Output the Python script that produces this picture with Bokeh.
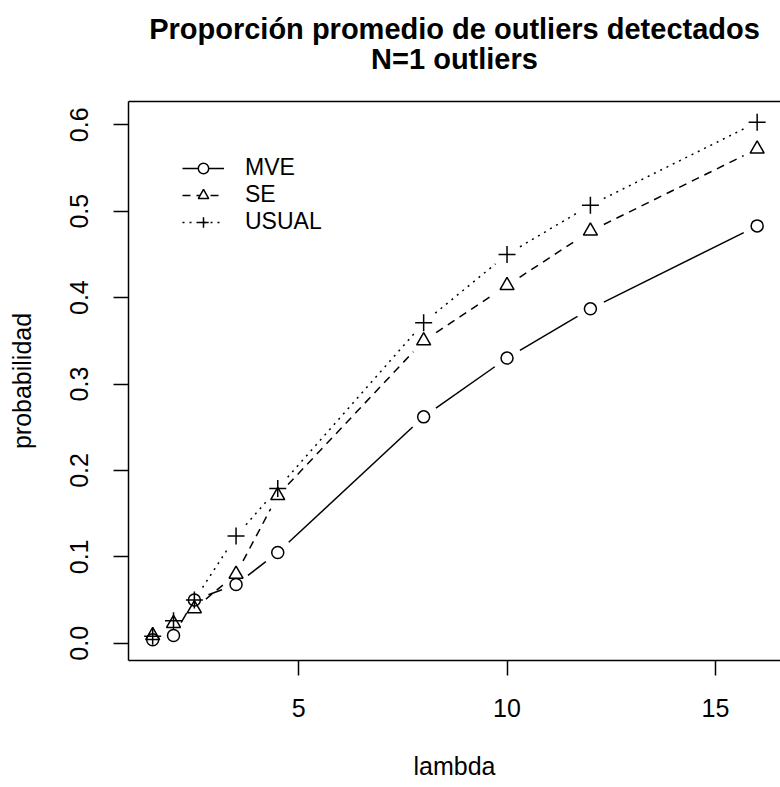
import math
from bokeh.plotting import figure
from bokeh.models import (Range1d, LinearAxis, FixedTicker, PrintfTickFormatter,
                          Title, Legend, LegendItem, ColumnDataSource)
from bokeh.embed import file_html
from bokeh.resources import INLINE

# ---- data ----
lam = [1.5, 2, 2.5, 3.5, 4.5, 8, 10, 12, 16]
mve = [0.004, 0.009, 0.050, 0.068, 0.105, 0.262, 0.330, 0.387, 0.483]
se = [0.009, 0.023, 0.040, 0.080, 0.171, 0.350, 0.414, 0.477, 0.572]
usual = [0.008, 0.026, 0.050, 0.124, 0.179, 0.371, 0.450, 0.507, 0.603]
series_names = ["MVE", "SE", "USUAL"]
x_ticks = [5, 10, 15]
y_ticks = [0.0, 0.1, 0.2, 0.3, 0.4, 0.5, 0.6]
title_lines = ["Proporción promedio de outliers detectados", "N=1 outliers"]

FONT = "Liberation Sans"

# ---- ranges (R style 4% padding; right side runs to window edge) ----
X0, X1 = 0.92, 16.56
allv = mve + se + usual
ymin, ymax = min(allv), max(allv)
pad = 0.04 * (ymax - ymin)
Y0, Y1 = ymin - pad, ymax + pad

W, H = 780, 787
BL, BR, BT, BB = 128, 0, 101, 127
fw = W - BL - BR
fh = H - BT - BB
sx = fw / (X1 - X0)
sy = fh / (Y1 - Y0)
GAP = 15


def gapped(xv, yv):
    xs, ys = [], []
    for i in range(len(xv) - 1):
        dx = xv[i + 1] - xv[i]
        dy = yv[i + 1] - yv[i]
        L = math.hypot(dx * sx, dy * sy)
        if L > 2 * GAP:
            f = GAP / L
            xs.append([xv[i] + f * dx, xv[i + 1] - f * dx])
            ys.append([yv[i] + f * dy, yv[i + 1] - f * dy])
    return xs, ys


p = figure(width=W, height=H, output_backend="svg", toolbar_location=None,
           x_range=Range1d(X0, X1), y_range=Range1d(Y0, Y1),
           min_border_left=BL, min_border_right=BR,
           min_border_top=BT, min_border_bottom=BB,
           x_axis_label="lambda", y_axis_label="probabilidad")
p.outline_line_color = None
p.grid.visible = False
p.background_fill_color = "white"
p.border_fill_color = "white"

for ax in (p.xaxis[0], p.yaxis[0]):
    ax.axis_line_width = 1.5
    ax.axis_line_color = "black"
    ax.major_tick_line_width = 1.5
    ax.major_tick_line_color = "black"
    ax.major_tick_out = 15
    ax.major_tick_in = 0
    ax.minor_tick_line_color = None
    ax.major_label_text_font = FONT
    ax.major_label_text_font_size = "25px"
    ax.major_label_text_color = "black"
    ax.axis_label_text_font = FONT
    ax.axis_label_text_font_size = "25px"
    ax.axis_label_text_font_style = "normal"
    ax.axis_label_text_color = "black"

p.xaxis[0].ticker = FixedTicker(ticks=x_ticks)
p.xaxis[0].formatter = PrintfTickFormatter(format="%d")
p.xaxis[0].major_label_standoff = 23
p.xaxis[0].axis_label_standoff = 32
p.yaxis[0].ticker = FixedTicker(ticks=y_ticks)
p.yaxis[0].formatter = PrintfTickFormatter(format="%.1f")
p.yaxis[0].major_label_orientation = "vertical"
p.yaxis[0].major_label_standoff = 25
p.yaxis[0].axis_label_standoff = 32

# top border of the box (no ticks; a blank label spaces the title off the box)
top_axis = LinearAxis(ticker=FixedTicker(ticks=[]), major_tick_line_color=None,
                      major_tick_out=0, major_tick_in=0,
                      minor_tick_line_color=None, major_label_text_font_size="0px",
                      axis_line_width=1.5, axis_line_color="black",
                      major_label_standoff=0,
                      axis_label=" ", axis_label_text_font_size="1px",
                      axis_label_standoff=23)
p.add_layout(top_axis, "above")

# two-line bold title, centred over the plot box
p.add_layout(Title(text=title_lines[1], align="center", text_font=FONT,
                   text_font_size="29px", text_font_style="bold",
                   text_color="black", standoff=0), "above")
p.title.text = title_lines[0]
p.title.align = "center"
p.title.text_font = FONT
p.title.text_font_size = "29px"
p.title.text_font_style = "bold"
p.title.text_color = "black"
p.title.standoff = -8

styles = [
    dict(marker="circle", size=12, dash="solid"),
    dict(marker="triangle", size=14, dash="8 6"),
    dict(marker="cross", size=17, dash="2 5"),
]

items = []
for name, vals, st in zip(series_names, [mve, se, usual], styles):
    xs, ys = gapped(lam, vals)
    p.multi_line(xs=xs, ys=ys, line_color="black", line_width=1.5,
                 line_dash=st["dash"])
    p.scatter(x=lam, y=vals, marker=st["marker"], size=st["size"],
              line_color="black", line_width=1.5, fill_color=None)
    # legend-only renderers (one NaN point, nothing drawn in the plot)
    dummy = ColumnDataSource(data=dict(x=[float("nan")], y=[float("nan")]))
    lr = p.line(x="x", y="y", source=dummy, line_color="black", line_width=1.5,
                line_dash=st["dash"])
    sr = p.scatter(x="x", y="y", source=dummy, marker=st["marker"], size=st["size"],
                   line_color="black", line_width=1.5, fill_color="white")
    items.append(LegendItem(label=name, renderers=[lr, sr]))

legend = Legend(items=items, location=(54, 425), border_line_color=None,
                background_fill_alpha=0, padding=0, margin=0, spacing=0,
                glyph_width=42, glyph_height=26, label_height=26,
                label_standoff=21, label_text_font=FONT,
                label_text_font_size="23px", label_text_color="black")
p.add_layout(legend)

open("out.html", "w").write(file_html(p, INLINE))
